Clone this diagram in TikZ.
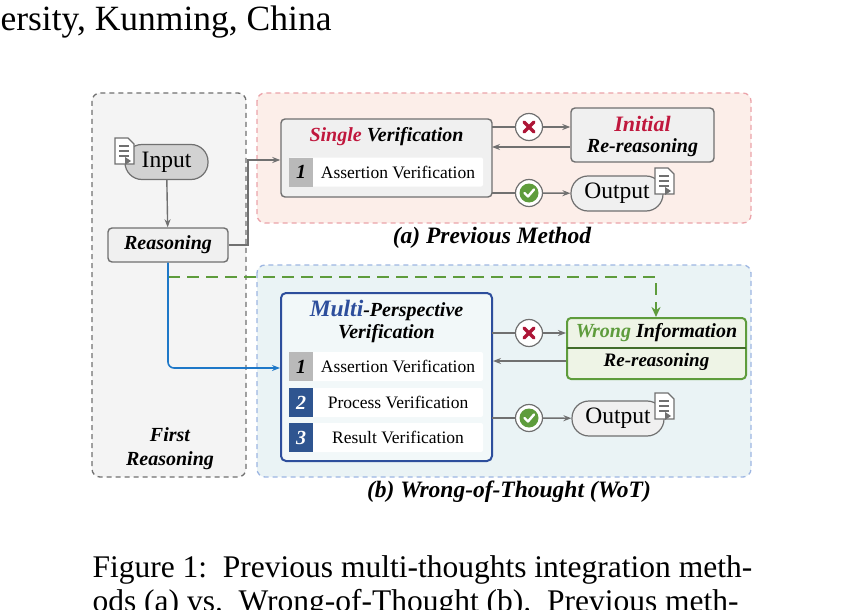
\documentclass[tikz,border=0pt]{standalone}
\usepackage{fontspec}
\setmainfont{Liberation Serif}
\usetikzlibrary{arrows.meta,calc}
\definecolor{pinkf}{HTML}{FCEEE9}\definecolor{pinkd}{HTML}{EBA3AA}
\definecolor{bluef}{HTML}{EAF3F5}\definecolor{blued}{HTML}{9DB6E2}
\definecolor{grayf}{HTML}{F4F4F4}\definecolor{grayd}{HTML}{707070}
\definecolor{redt}{HTML}{C0173D}\definecolor{bluet}{HTML}{2D4E9C}
\definecolor{greent}{HTML}{5E9C3C}\definecolor{numb}{HTML}{2F5590}
\definecolor{boxf}{HTML}{F0F0F0}\definecolor{wrongf}{HTML}{EEF4E6}
\tikzset{
 region/.style={draw, dashed, line width=1.3pt, rounded corners=8pt, dash pattern=on 5pt off 4pt},
 boxn/.style={draw=grayd, fill=boxf, line width=1.4pt, rounded corners=4pt, inner sep=0pt},
 pill/.style={draw=grayd, fill=#1, line width=1.2pt, rounded corners=17pt, inner sep=0pt, minimum height=35pt},
 row/.style={fill=white, rounded corners=2pt, minimum width=194pt, minimum height=29pt, inner sep=0pt},
 numbox/.style={fill=#1, minimum width=24pt, minimum height=29pt, inner sep=0pt, text=white, font=\fontsize{20}{20}\selectfont\bfseries\itshape},
 circ/.style={circle, draw=grayd, fill=white, line width=1.2pt, minimum size=27pt, inner sep=0pt},
 arr/.style={-{Stealth[length=8pt,width=6pt]}, draw=grayd, line width=1.4pt},
 ln/.style={draw=grayd, line width=1.4pt},
 ttl/.style={font=\fontsize{20}{22}\selectfont\bfseries\itshape},
 capt/.style={font=\fontsize{23.5}{24}\selectfont\bfseries\itshape},
 rowt/.style={font=\fontsize{17.5}{17.5}\selectfont}
}
\newcommand{\docicon}[2]{%
 \draw[grayd, line width=1.1pt, fill=white] (#1-9,#2-13) -- (#1+4,#2-13) -- (#1+10,#2-7) -- (#1+10,#2+13) -- (#1-9,#2+13) -- cycle;
 \foreach \yy in {-5,0,5}{\draw[grayd, line width=1.2pt] (#1-5,#2+\yy) -- (#1+5,#2+\yy);}
 \fill[grayd] (#1+1,#2+6) -- (#1+7,#2+10) -- (#1+1,#2+14) -- cycle;}
\newcommand{\xmark}[1]{\draw[redt!90!black, line width=3.5pt, line cap=round] ($(#1)+(-5,-5)$) -- ($(#1)+(5,5)$) ($(#1)+(-5,5)$) -- ($(#1)+(5,-5)$);}
\newcommand{\cmark}[1]{\fill[greent] (#1) circle (9.5pt); \draw[white, line width=2.4pt, line cap=round, line join=round] ($(#1)+(-4.5,0)$) -- ($(#1)+(-1,3.5)$) -- ($(#1)+(5,-3.5)$);}
\begin{document}
\begin{tikzpicture}[x=1pt,y=-1pt]
\useasboundingbox (0,0) rectangle (847,610);
\node[anchor=west, font=\fontsize{35.5}{35.5}\selectfont] (top) at (-3,22) {ersity, Kunming, China};
% regions
\draw[region, draw=grayd, fill=grayf] (92,93) rectangle (246,477);
\draw[region, draw=pinkd, fill=pinkf] (257,93) rectangle (751,223);
\draw[region, draw=blued, fill=bluef] (257,265) rectangle (751,477);
% left column
\node[pill=gray!35, minimum width=83pt, font=\fontsize{23.5}{23.5}\selectfont] (input) at (166.5,162) {Input};
\docicon{124}{151}
\node[boxn, minimum width=120pt, minimum height=34pt, font=\fontsize{20}{20}\selectfont\bfseries\itshape] (reas) at (168,245) {Reasoning};
\node[font=\fontsize{20}{24}\selectfont\bfseries\itshape, align=center] (first) at (170,449) {First\\Reasoning};
\draw[arr] (input) -- (reas);
% single verification
\node[boxn, minimum width=211pt, minimum height=78pt] (single) at (386.5,158) {};
\node[ttl] (stitle) at (386.5,137) {\textcolor{redt}{Single} Verification};
\node[row] (r0) at (386,172) {};
\node[numbox=gray!55, text=black, minimum width=24pt] (n0) at (301,172) {1};
\node[rowt] (t0) at (398,172) {Assertion Verification};
\draw[arr] (reas.east) -- (248,245) -- (248,160) -- (single.west |- 0,160);
\node[boxn, minimum width=143pt, minimum height=54pt] (init) at (642.5,135) {};
\node[font=\fontsize{22}{22}\selectfont\bfseries\itshape, text=redt] (initt) at (642.5,124) {Initial};
\node[font=\fontsize{20}{20}\selectfont\bfseries\itshape] (initr) at (642.5,148) {Re-reasoning};
\node[circ] (c1) at (529,127) {}; \xmark{c1}
\draw[ln] (492,127) -- (c1);
\draw[arr] (c1) -- (init.west |- 0,127);
\draw[arr] (init.west |- 0,147) -- (492,147);
\node[circ] (k1) at (529,193) {}; \cmark{k1}
\node[pill=boxf, minimum width=92pt, font=\fontsize{23.5}{23.5}\selectfont] (out1) at (617,193.5) {Output};
\docicon{664}{181}
\draw[ln] (492,193) -- (k1);
\draw[arr] (k1) -- (out1);
\node[capt] (capa) at (492,238) {(a) Previous Method};
% multi
\node[draw=bluet, fill=bluef!60!white, line width=2pt, rounded corners=5pt, minimum width=211pt, minimum height=168pt, inner sep=0pt] (multi) at (386.5,377) {};
\node[ttl, align=center] (mtitle) at (386.5,321) {{\fontsize{23.5}{23.5}\selectfont\textcolor{bluet}{Multi}}-Perspective\\Verification};
\node[row] (r1) at (386,366.5) {};
\node[numbox=gray!55, text=black] (n1) at (301,366.5) {1};
\node[rowt] (t1) at (398,366.5) {Assertion Verification};
\node[row] (r2) at (386,402.5) {};
\node[numbox=numb] (n2) at (301,402.5) {2};
\node[rowt] (t2) at (398,402.5) {Process Verification};
\node[row] (r3) at (386,437.5) {};
\node[numbox=numb] (n3) at (301,437.5) {3};
\node[rowt] (t3) at (398,437.5) {Result Verification};
\node[draw=greent, fill=wrongf, line width=2pt, rounded corners=4pt, minimum width=179pt, minimum height=61pt, inner sep=0pt] (wrong) at (656.5,348.5) {};
\draw[greent!70!black, line width=1.2pt] (567,348) -- (746,348);
\node[font=\fontsize{20}{20}\selectfont\bfseries\itshape] (wt) at (656.5,333) {\textcolor{greent}{Wrong} Information};
\node[font=\fontsize{19}{19}\selectfont\bfseries\itshape] (wr) at (656.5,362) {Re-reasoning};
\node[circ] (c2) at (529,333) {}; \xmark{c2}
\draw[ln] (492,333) -- (c2);
\draw[arr] (c2) -- (wrong.west |- 0,333);
\draw[arr] (wrong.west |- 0,361) -- (493,361);
\node[circ] (k2) at (529,418) {}; \cmark{k2}
\node[pill=boxf, minimum width=92pt, font=\fontsize{23.5}{23.5}\selectfont] (out2) at (618,418.5) {Output};
\docicon{664}{406}
\draw[ln] (492,418) -- (k2);
\draw[arr] (k2) -- (out2);
\node[capt] (capb) at (509,492) {(b) Wrong-of-Thought (WoT)};
% connectors from reasoning
\draw[greent, line width=2.6pt, dash pattern=on 12pt off 7pt, -{Stealth[length=10pt,width=9pt]}] (168,277) -- (656,277) -- (wrong.north -| 656,0);
\draw[-{Stealth[length=8pt,width=6pt]}, draw={rgb,255:red,30;green,120;blue,200}, line width=1.6pt, rounded corners=6pt] (reas.south) -- (168,368) -- (multi.west |- 0,368);
% caption
\node[anchor=base west, font=\fontsize{31.5}{31.5}\selectfont] (cap1) at (89,577) {Figure 1:\ \ Previous multi-thoughts integration meth-};
\node[anchor=base west, font=\fontsize{31.5}{31.5}\selectfont] (cap2) at (89,611) {ods (a) vs.\ \ Wrong-of-Thought (b).\ \ Previous meth-};
\end{tikzpicture}
\end{document}
